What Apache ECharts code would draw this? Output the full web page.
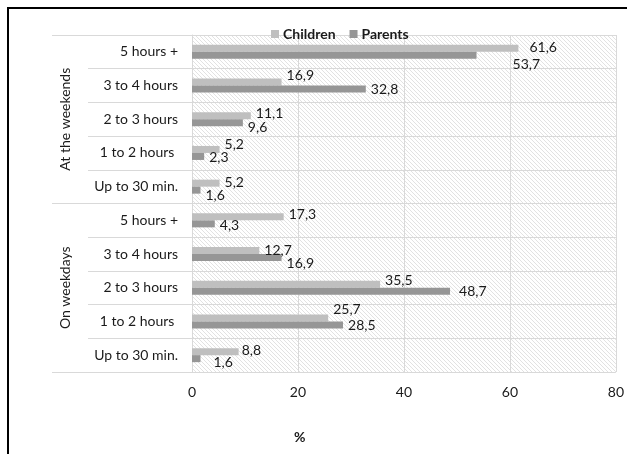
<!DOCTYPE html>
<html>
<head>
<meta charset="utf-8">
<script src="https://cdn.jsdelivr.net/npm/echarts@6/dist/echarts.min.js"></script>
<style>
  html, body { margin: 0; padding: 0; background: #fff; }
  #chart { width: 627px; height: 454px; }
</style>
</head>
<body>
<div id="chart"></div>
<script>
// Time spent per day, by period and duration band
const groups = ['At the weekends', 'On weekdays'];
const categories = [
  '5 hours +', '3 to 4 hours', '2 to 3 hours', '1 to 2 hours ', 'Up to 30 min.',
  '5 hours +', '3 to 4 hours', '2 to 3 hours', '1 to 2 hours ', 'Up to 30 min.'
];
const children = [61.6, 16.9, 11.1, 5.2, 5.2, 17.3, 12.7, 35.5, 25.7, 8.8];
const parents  = [53.7, 32.8, 9.6, 2.3, 1.6, 4.3, 16.9, 48.7, 28.5, 1.6];
const xTicks = [0, 20, 40, 60, 80];

// Small nudges so neighbouring value labels don't collide
const childNudge  = [[6, -1], [0, -7], [0, -2], [0, -5], [0, -1], [0, -2], [0, 0], [0, -4], [0, -8], [-2, -1]];
const parentNudge = [[31, 9], [0, 0], [0, 5], [0, 1], [0, 5], [0, 2], [0, 6], [4, 0], [0, 1], [8, 4]];

const FONT = 'Lato, "Liberation Sans", sans-serif';

// Diagonal hatch used as the plot background
function hatch() {
  const c = document.createElement('canvas');
  c.width = 4; c.height = 4;
  const g = c.getContext('2d');
  g.fillStyle = '#ffffff';
  g.fillRect(0, 0, 4, 4);
  g.strokeStyle = '#e2e2e2';
  g.lineWidth = 1;
  g.beginPath();
  g.moveTo(-1, -1); g.lineTo(5, 5);
  g.moveTo(-1, 3); g.lineTo(1, 5);
  g.moveTo(3, -1); g.lineTo(5, 1);
  g.stroke();
  return c;
}

function withLabels(values, nudge) {
  return values.map((v, i) => ({
    value: v,
    label: { offset: nudge[i] }
  }));
}

const fmt = p => String(p.value).replace('.', ',');

const chart = echarts.init(document.getElementById('chart'), null, { renderer: 'canvas' });
chart.setOption({
  animation: false,
  backgroundColor: '#ffffff',
  textStyle: { fontFamily: FONT },
  legend: {
    top: 22,
    left: 266,
    itemWidth: 8,
    itemHeight: 8,
    itemGap: 14,
    icon: 'rect',
    textStyle: { fontFamily: FONT, fontSize: 14, fontWeight: 'bold', color: '#1a1a1a', padding: [0, 0, 0, -1] },
    data: ['Children', 'Parents']
  },
  grid: {
    left: 192, right: 11, top: 35, bottom: 82,
    show: true,
    backgroundColor: { image: hatch(), repeat: 'repeat' },
    borderWidth: 0
  },
  xAxis: {
    type: 'value',
    min: xTicks[0],
    max: xTicks[xTicks.length - 1],
    interval: 20,
    axisLine: { show: false },
    axisTick: { show: false },
    axisLabel: { fontFamily: FONT, fontSize: 14, color: '#1a1a1a', margin: 13 },
    splitLine: { show: true, lineStyle: { color: '#d9d9d9', width: 1 } }
  },
  yAxis: [
    {
      type: 'category',
      inverse: true,
      data: categories,
      axisLine: { show: true, lineStyle: { color: '#d9d9d9' } },
      axisTick: { show: true, length: 104, lineStyle: { color: '#d9d9d9' } },
      axisLabel: { fontFamily: FONT, fontSize: 14, color: '#1a1a1a', margin: 14 },
      splitLine: { show: true, lineStyle: { color: '#d9d9d9', width: 1 } }
    },
    {
      type: 'category',
      inverse: true,
      position: 'left',
      data: groups,
      axisLine: { show: false },
      axisTick: { show: true, length: 140, lineStyle: { color: '#d9d9d9' } },
      axisLabel: { fontFamily: FONT, fontSize: 14, color: '#1a1a1a', rotate: 90, margin: 120 },
      splitLine: { show: false }
    }
  ],
  series: [
    {
      name: 'Children',
      type: 'bar',
      yAxisIndex: 0,
      barWidth: 7,
      barGap: '0%',
      itemStyle: { color: '#bfbfbf' },
      label: { show: true, position: 'right', distance: 5, fontFamily: FONT, fontSize: 14, color: '#1a1a1a', formatter: fmt },
      data: withLabels(children, childNudge)
    },
    {
      name: 'Parents',
      type: 'bar',
      yAxisIndex: 0,
      barWidth: 7,
      barGap: '0%',
      itemStyle: { color: '#969696' },
      label: { show: true, position: 'right', distance: 5, fontFamily: FONT, fontSize: 14, color: '#1a1a1a', formatter: fmt },
      data: withLabels(parents, parentNudge)
    }
  ],
  graphic: [
    {
      type: 'rect',
      silent: true,
      z: 100,
      shape: { x: 8, y: 8, width: 700, height: 600 },
      style: { fill: 'none', stroke: '#000000', lineWidth: 2 }
    },
    {
      type: 'text',
      left: 294,
      top: 430,
      style: { text: '%', fontFamily: FONT, fontSize: 14, fontWeight: 'bold', fill: '#1a1a1a' }
    }
  ]
});
</script>
</body>
</html>
